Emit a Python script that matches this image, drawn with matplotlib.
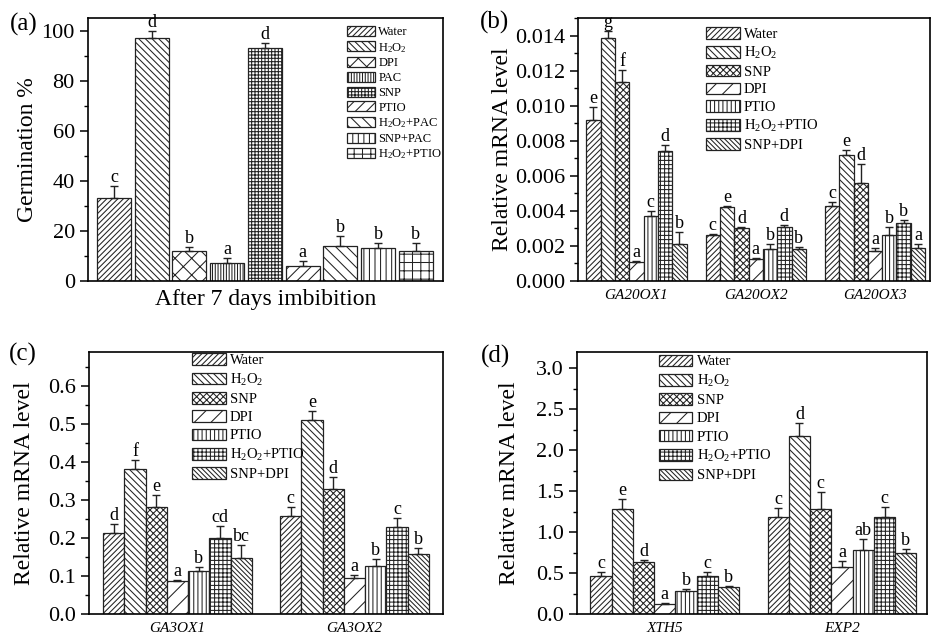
import matplotlib
matplotlib.use('Agg')
import matplotlib.pyplot as plt
import numpy as np
from matplotlib.ticker import AutoMinorLocator, FormatStrFormatter

plt.rcParams['font.family'] = ['Liberation Serif', 'DejaVu Serif']
plt.rcParams['mathtext.fontset'] = 'custom'
plt.rcParams['mathtext.rm'] = 'Liberation Serif'
plt.rcParams['mathtext.it'] = 'Liberation Serif:italic'
plt.rcParams['hatch.linewidth'] = 0.75

# (a) germination
a_labels = ['Water', r'H$_2$O$_2$', 'DPI', 'PAC', 'SNP', 'PTIO',
            r'H$_2$O$_2$+PAC', 'SNP+PAC', r'H$_2$O$_2$+PTIO']
a_mean = [33, 97, 12, 7, 93, 6, 14, 13, 12]
a_err = [5, 3, 1.5, 2, 2, 2, 4, 2, 3]
a_letters = ['c', 'd', 'b', 'a', 'd', 'a', 'b', 'b', 'b']
a_hatch = ['//////', '\\\\\\\\\\', 'xx', '||||||', '+++++', '///', '\\\\\\', '|||', '++']

# treatments for (b)-(d)
trt = ['Water', r'H$_2$O$_2$', 'SNP', 'DPI', 'PTIO', r'H$_2$O$_2$+PTIO', 'SNP+DPI']
trt_hatch = ['//////', '\\\\\\\\\\', 'xxxxx', '//', '||||', '++++', '\\\\\\\\\\\\\\']

# (b)
b_genes = ['GA20OX1', 'GA20OX2', 'GA20OX3']
b_mean = [[0.0092, 0.01385, 0.01133, 0.0011, 0.00368, 0.00743, 0.0021],
          [0.0026, 0.0042, 0.0030, 0.00124, 0.0018, 0.0031, 0.0018],
          [0.0043, 0.0072, 0.0056, 0.00173, 0.0026, 0.0033, 0.0019]]
b_err = [[0.0007, 0.0004, 0.0007, 0.00006, 0.0003, 0.0003, 0.0007],
         [0.00006, 0.0001, 0.00006, 0.00007, 0.0003, 0.0001, 0.00015],
         [0.0002, 0.0003, 0.0011, 0.00014, 0.0005, 0.0002, 0.0002]]
b_letters = [['e', 'g', 'f', 'a', 'c', 'd', 'b'],
             ['c', 'e', 'd', 'a', 'b', 'd', 'b'],
             ['c', 'e', 'd', 'a', 'b', 'b', 'a']]

# (c)
c_genes = ['GA3OX1', 'GA3OX2']
c_mean = [[0.213, 0.383, 0.281, 0.087, 0.114, 0.200, 0.147],
          [0.257, 0.512, 0.328, 0.094, 0.127, 0.228, 0.158]]
c_err = [[0.024, 0.022, 0.032, 0.002, 0.010, 0.031, 0.035],
         [0.025, 0.022, 0.032, 0.009, 0.019, 0.026, 0.017]]
c_letters = [['d', 'f', 'e', 'a', 'b', 'cd', 'bc'],
             ['c', 'e', 'd', 'a', 'b', 'c', 'b']]

# (d)
d_genes = ['XTH5', 'EXP2']
d_mean = [[0.47, 1.28, 0.63, 0.12, 0.28, 0.46, 0.33],
          [1.18, 2.18, 1.28, 0.57, 0.78, 1.19, 0.75]]
d_err = [[0.04, 0.13, 0.03, 0.012, 0.03, 0.05, 0.012],
         [0.12, 0.15, 0.21, 0.08, 0.13, 0.12, 0.05]]
d_letters = [['c', 'e', 'd', 'a', 'b', 'c', 'b'],
             ['c', 'd', 'c', 'a', 'ab', 'c', 'b']]


def style_axis(ax):
    for s in ax.spines.values():
        s.set_linewidth(1.2)
    ax.tick_params(axis='y', which='major', direction='out', length=6, width=1.1,
                   labelsize=16, right=False)
    ax.tick_params(axis='y', which='minor', direction='out', length=3, width=1.0, right=False)
    ax.tick_params(axis='x', which='both', length=0, top=False)
    ax.yaxis.set_minor_locator(AutoMinorLocator(2))


def draw_bar(ax, pos, h, e, letter, hatch, label=None):
    ax.bar(pos, h, width=wd, color='white', edgecolor='#222222', hatch=hatch,
           linewidth=0.9, label=label)
    ax.errorbar(pos, h, yerr=[[0], [e]], fmt='none', ecolor='#222222',
                elinewidth=1.0, capsize=3, capthick=1.0)
    ax.annotate(letter, (pos, h + e), xytext=(0, 0), textcoords='offset points',
                ha='center', va='bottom', fontsize=13)


def grouped(ax, genes, mean, err, letters):
    global wd
    wd = 0.12
    n = len(trt)
    for g in range(len(genes)):
        for i in range(n):
            pos = g + (i - (n - 1) / 2) * wd
            draw_bar(ax, pos, mean[g][i], err[g][i], letters[g][i], trt_hatch[i],
                     trt[i] if g == 0 else None)
    ax.set_xticks(range(len(genes)))
    ax.set_xticklabels(genes, style='italic', fontsize=11)
    ax.tick_params(axis='x', pad=6)
    ax.set_ylabel('Relative mRNA level', fontsize=17)


def add_legend(ax, x, y, fs, hl, sp):
    ax.legend(loc='upper left', bbox_to_anchor=(x, y), frameon=False, fontsize=fs,
              handlelength=hl, handleheight=0.85, handletextpad=0.3, labelspacing=sp,
              borderaxespad=0, borderpad=0)


fig = plt.figure(figsize=(9.31, 6.37), dpi=100)

# ---- (a)
ax = fig.add_axes([0.0945, 0.5589, 0.3813, 0.4128])
wd = 0.9
for i in range(len(a_mean)):
    draw_bar(ax, i + 1, a_mean[i], a_err[i], a_letters[i], a_hatch[i], a_labels[i])
ax.set_xlim(0.31, 9.72)
ax.set_ylim(0, 105)
ax.set_yticks(np.arange(0, 101, 20))
ax.set_xticks([])
ax.set_xlabel('After 7 days imbibition', fontsize=17, labelpad=6)
ax.set_ylabel('Germination %', fontsize=17)
ax.yaxis.set_label_coords(-0.14, 0.5)
style_axis(ax)
add_legend(ax, 0.73, 0.97, 9, 2.2, 0.2)

# ---- (b)
ax = fig.add_axes([0.6208, 0.5589, 0.378, 0.4128])
grouped(ax, b_genes, b_mean, b_err, b_letters)
ax.set_xlim(-0.49, 2.46)
ax.set_ylim(0, 0.015)
ax.set_yticks(np.arange(0, 0.0141, 0.002))
ax.yaxis.set_major_formatter(FormatStrFormatter('%.3f'))
ax.yaxis.set_label_coords(-0.185, 0.5)
style_axis(ax)
add_legend(ax, 0.364, 0.966, 10.5, 2.3, 0.27)

# ---- (c)
ax = fig.add_axes([0.0956, 0.0361, 0.3802, 0.4113])
grouped(ax, c_genes, c_mean, c_err, c_letters)
ax.set_xlim(-0.5, 1.5)
ax.set_ylim(0, 0.69)
ax.set_yticks(np.arange(0, 0.61, 0.1))
ax.yaxis.set_major_formatter(FormatStrFormatter('%.1f'))
ax.yaxis.set_label_coords(-0.153, 0.5)
style_axis(ax)
add_legend(ax, 0.291, 0.995, 10.5, 2.3, 0.3)

# ---- (d)
ax = fig.add_axes([0.6198, 0.0361, 0.376, 0.4113])
grouped(ax, d_genes, d_mean, d_err, d_letters)
ax.set_xlim(-0.495, 1.48)
ax.set_ylim(0, 3.2)
ax.set_yticks(np.arange(0, 3.01, 0.5))
ax.yaxis.set_major_formatter(FormatStrFormatter('%.1f'))
ax.yaxis.set_label_coords(-0.163, 0.5)
style_axis(ax)
add_legend(ax, 0.234, 0.99, 10.5, 2.3, 0.3)

# panel labels
fig.text(0.011, 0.962, '(a)', fontsize=18, va='center')
fig.text(0.515, 0.965, '(b)', fontsize=18, va='center')
fig.text(0.009, 0.444, '(c)', fontsize=18, va='center')
fig.text(0.517, 0.441, '(d)', fontsize=18, va='center')

fig.savefig('out.png', dpi=100)
